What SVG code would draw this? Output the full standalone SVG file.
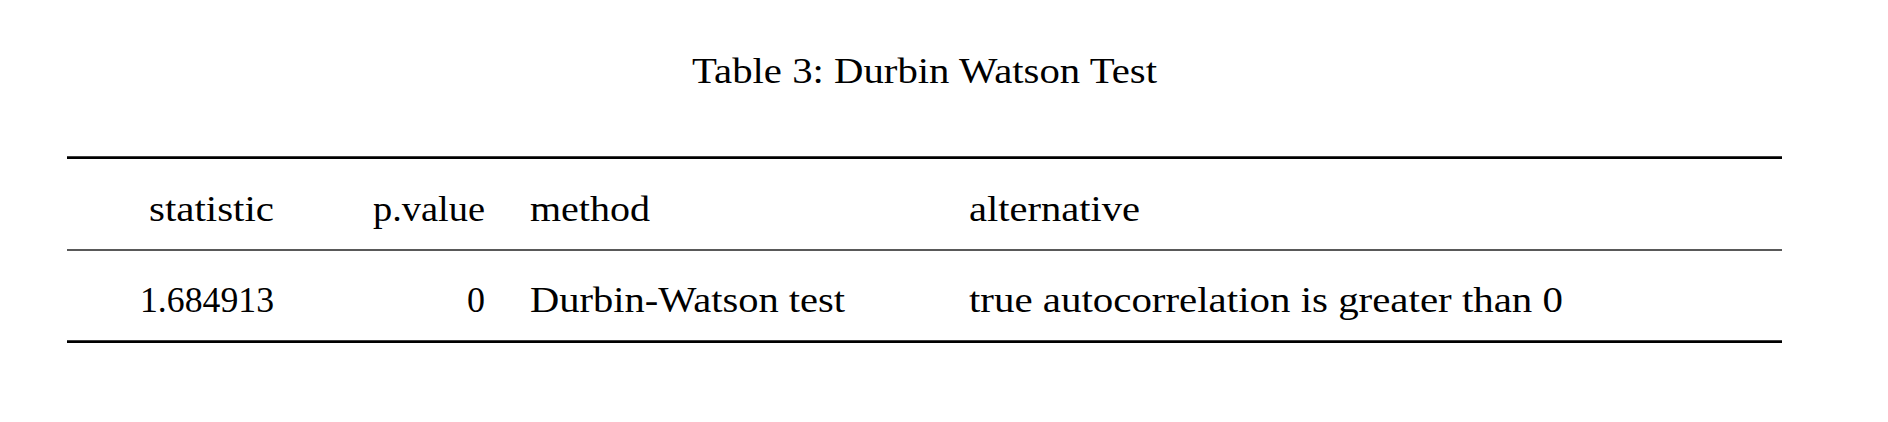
<svg xmlns="http://www.w3.org/2000/svg" width="1888" height="422" viewBox="0 0 1888 422">
<style>
text { font-family: "Liberation Serif", "DejaVu Serif", serif; font-size: 36px; fill: #000; }
.r { text-anchor: end; }
.thick { stroke: #000; stroke-width: 2.7; }
.thin { stroke: #222; stroke-width: 1.6; }
</style>
<rect width="1888" height="422" fill="#fff"/>
<g id="title">
<text x="692" y="83" textLength="465" lengthAdjust="spacingAndGlyphs">Table 3: Durbin Watson Test</text>
</g>
<g id="rules">
<line class="thick" x1="67" y1="157.7" x2="1782" y2="157.7"/>
<line class="thin" x1="67" y1="250" x2="1782" y2="250"/>
<line class="thick" x1="67" y1="341.7" x2="1782" y2="341.7"/>
</g>
<g id="header">
<text x="149" y="221" textLength="125" lengthAdjust="spacingAndGlyphs">statistic</text>
<text x="373" y="221" textLength="112" lengthAdjust="spacingAndGlyphs">p.value</text>
<text x="530" y="221" textLength="120" lengthAdjust="spacingAndGlyphs">method</text>
<text x="969" y="221" textLength="171" lengthAdjust="spacingAndGlyphs">alternative</text>
</g>
<g id="row1">
<text x="140" y="311.7" textLength="134" lengthAdjust="spacingAndGlyphs">1.684913</text>
<text class="r" x="485" y="311.7">0</text>
<text x="530" y="311.7" textLength="315" lengthAdjust="spacingAndGlyphs">Durbin-Watson test</text>
<text x="969" y="311.7" textLength="594" lengthAdjust="spacingAndGlyphs">true autocorrelation is greater than 0</text>
</g>
</svg>
